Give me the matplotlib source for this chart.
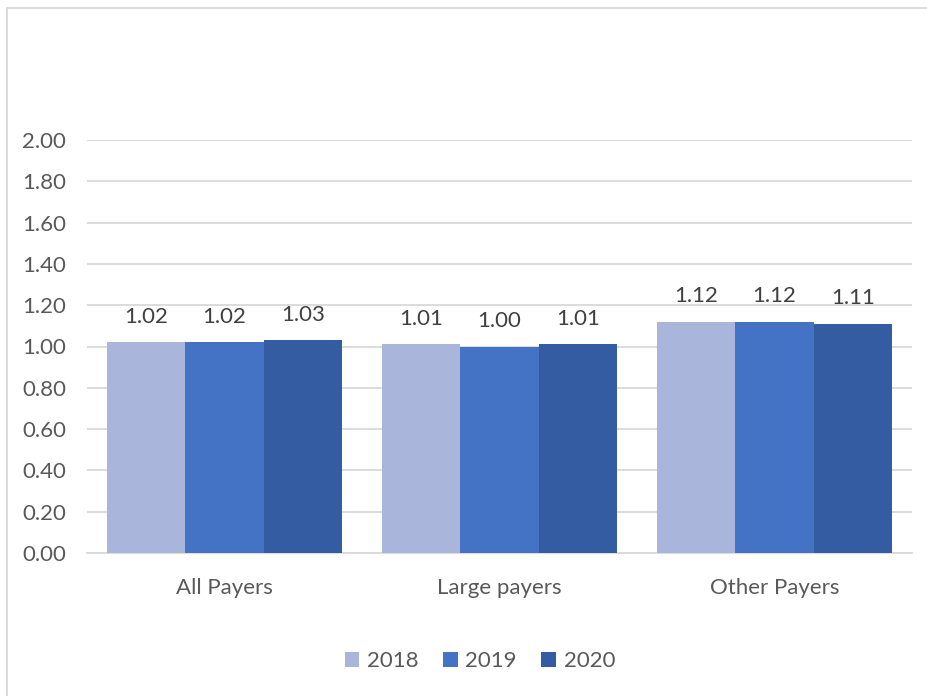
import matplotlib.pyplot as plt
import numpy as np

categories = ['All Payers', 'Large payers', 'Other Payers']
years = ['2018', '2019', '2020']
values_2018 = [1.02, 1.01, 1.12]
values_2019 = [1.02, 1.00, 1.12]
values_2020 = [1.03, 1.01, 1.11]
colores = ['#A9B5DB', '#4472C4', '#345CA2']
gris = '#595959'

plt.rcParams['font.family'] = ['Lato', 'DejaVu Sans']

fig = plt.figure(figsize=(9.28, 6.96), dpi=100)
ax = fig.add_axes([87/928, 1-553/696, 825/928, 413/696])

x = np.arange(len(categories))
ancho = 1/3.5
series = [values_2018, values_2019, values_2020]
for k, vals in enumerate(series):
    barras = ax.bar(x + (k-1)*ancho, vals, ancho, color=colores[k], label=years[k], zorder=3)
    for b, v in zip(barras, vals):
        ax.text(b.get_x() + b.get_width()/2, v + 0.075, '%.2f' % v,
                ha='center', va='bottom', fontsize=16, color='#404040')

ax.set_xlim(-0.5, 2.5)
ax.set_ylim(0, 2.0)
ax.set_yticks(np.arange(0, 2.01, 0.2))
ax.set_yticklabels(['%.2f' % t for t in np.arange(0, 2.01, 0.2)])
ax.set_xticks(x)
ax.set_xticklabels(categories)
ax.tick_params(axis='both', length=0, labelsize=16, colors=gris)
ax.tick_params(axis='x', pad=18)
ax.tick_params(axis='y', pad=15)
ax.grid(axis='y', color='#D9D9D9', linewidth=1.3, zorder=0)
for s in ['top', 'right', 'left']:
    ax.spines[s].set_visible(False)
ax.spines['bottom'].set_color('#D9D9D9')
ax.spines['bottom'].set_linewidth(1.3)

leg = fig.legend(loc='center', bbox_to_anchor=(480/928, 1-661/696), ncol=3, frameon=False,
                 fontsize=16, handlelength=0.65, handleheight=0.65, handletextpad=0.35,
                 columnspacing=1.1)
for t in leg.get_texts():
    t.set_color(gris)

# borde del grafico
fig.add_artist(plt.Line2D([7/928, 7/928], [0, 1-8/696], color='#D9D9D9', linewidth=1.3))
fig.add_artist(plt.Line2D([7/928, 1], [1-8/696, 1-8/696], color='#D9D9D9', linewidth=1.3))

plt.savefig('out.png', dpi=100)
